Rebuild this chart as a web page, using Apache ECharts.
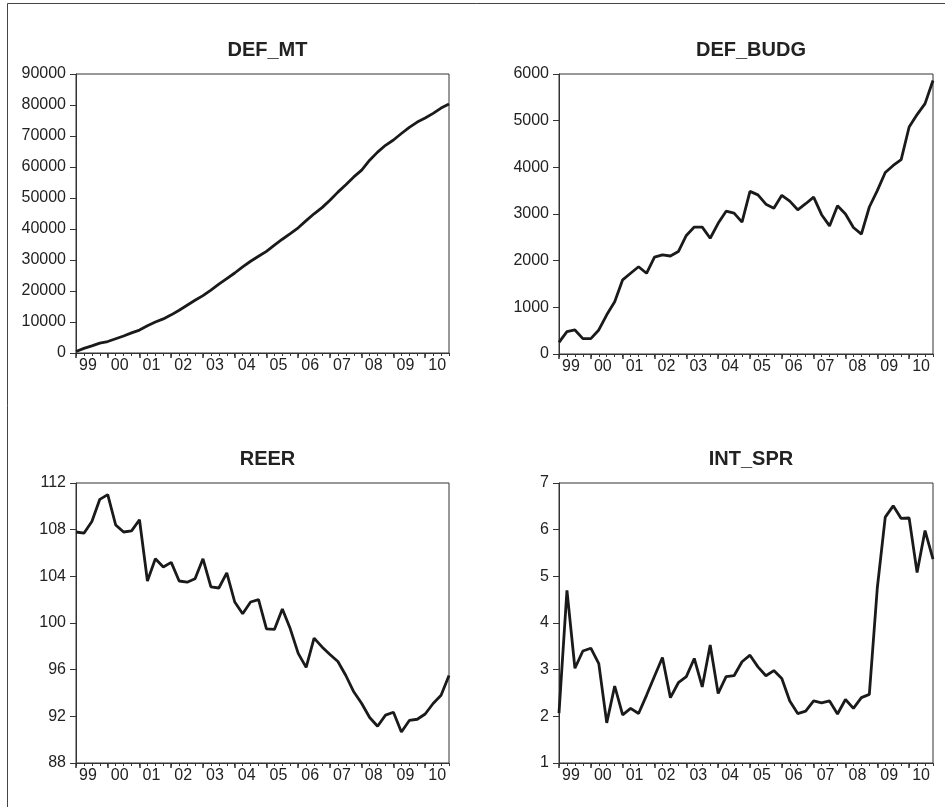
<!DOCTYPE html>
<html><head><meta charset="utf-8">
<script src="https://cdn.jsdelivr.net/npm/echarts@6/dist/echarts.min.js"></script>
<style>html,body{margin:0;padding:0;background:#fff}#c{width:945px;height:807px}</style>
</head><body><div id="c"></div>
<script>
const quarters = [
 '1999Q1','1999Q2','1999Q3','1999Q4','2000Q1','2000Q2','2000Q3','2000Q4',
 '2001Q1','2001Q2','2001Q3','2001Q4','2002Q1','2002Q2','2002Q3','2002Q4',
 '2003Q1','2003Q2','2003Q3','2003Q4','2004Q1','2004Q2','2004Q3','2004Q4',
 '2005Q1','2005Q2','2005Q3','2005Q4','2006Q1','2006Q2','2006Q3','2006Q4',
 '2007Q1','2007Q2','2007Q3','2007Q4','2008Q1','2008Q2','2008Q3','2008Q4',
 '2009Q1','2009Q2','2009Q3','2009Q4','2010Q1','2010Q2','2010Q3','2010Q4'];
const yearLabels = ['99','00','01','02','03','04','05','06','07','08','09','10'];
const titles = ['DEF_MT','DEF_BUDG','REER','INT_SPR'];

const defMt = [500,1500,2300,3200,3700,4600,5500,6500,7400,8800,10000,11000,
 12300,13800,15400,17000,18500,20300,22200,24000,25800,27800,29600,31200,
 32800,34800,36700,38500,40400,42700,44900,46900,49300,51900,54300,56800,
 59000,62200,64800,67000,68700,70800,72800,74500,75800,77300,79000,80300];
const defBudg = [250,480,515,330,330,515,840,1120,1590,1730,1870,1730,
 2075,2125,2100,2195,2540,2720,2720,2480,2800,3060,3020,2825,
 3485,3410,3210,3125,3400,3275,3090,3220,3360,2985,2745,3175,
 3000,2710,2570,3150,3500,3890,4040,4165,4865,5130,5365,5860];
const reer = [107.8,107.7,108.7,110.6,111.0,108.4,107.8,107.9,108.85,103.6,105.5,104.8,
 105.2,103.6,103.5,103.8,105.5,103.1,103.0,104.3,101.8,100.8,101.8,102.0,
 99.5,99.45,101.2,99.5,97.4,96.2,98.7,97.95,97.3,96.7,95.5,94.1,
 93.1,91.9,91.15,92.1,92.35,90.65,91.65,91.75,92.2,93.1,93.8,95.5];
const intSpr = [2.07,4.7,3.03,3.4,3.46,3.13,1.86,2.65,2.03,2.17,2.06,2.45,
 2.86,3.26,2.4,2.72,2.85,3.24,2.63,3.53,2.49,2.85,2.87,3.17,
 3.31,3.06,2.87,2.98,2.81,2.33,2.06,2.11,2.33,2.29,2.33,2.05,
 2.36,2.17,2.4,2.47,4.75,6.27,6.51,6.24,6.25,5.08,5.98,5.37];

const seriesData = [defMt, defBudg, reer, intSpr];
const yMin = [0, 0, 88, 1];
const yMax = [90000, 6000, 112, 7];
const yStep = [10000, 1000, 4, 1];

const FONT = "'Liberation Sans', Arial, sans-serif";
const AX = '#333';
const grids = [
 {left:76, top:74, width:373, height:279},
 {left:559, top:74, width:374, height:280},
 {left:76, top:483, width:373, height:280},
 {left:559, top:483, width:374, height:280}
];
const titleTops = [35, 35, 444, 444];

const option = {
  animation: false,
  backgroundColor: '#fff',
  graphic: [{type:'rect', shape:{x:7.5, y:3.5, width:1000, height:1000},
    style:{fill:'none', stroke:'#444', lineWidth:1}, silent:true}],
  title: grids.map((g,i)=>({text:titles[i], left:g.left+g.width/2, top:titleTops[i], textAlign:'center',
    textStyle:{fontFamily:FONT, fontWeight:'bold', fontSize:20, color:'#222'}})),
  grid: grids.map(g=>Object.assign({show:true, borderColor:AX, borderWidth:1, backgroundColor:'transparent'}, g)),
  xAxis: [],
  yAxis: [],
  series: []
};
grids.forEach((g,i)=>{
  option.xAxis.push({type:'category', gridIndex:i, position:'bottom', data:quarters, boundaryGap:false,
    axisLine:{show:true, onZero:false, lineStyle:{color:AX, width:1}},
    axisTick:{show:true, interval:0, length:3, lineStyle:{color:AX}},
    axisLabel:{show:true, interval:(idx)=>idx%4===1, margin:5,
      formatter:(v,idx)=>yearLabels[Math.floor(idx/4)],
      padding:[0,0,0,8], fontFamily:FONT, fontSize:16, color:'#222'},
    splitLine:{show:false}});
  option.xAxis.push({type:'category', gridIndex:i, position:'bottom', offset:0, data:quarters, boundaryGap:false,
    axisLine:{show:false, onZero:false},
    axisTick:{show:true, interval:(idx)=>idx%4===0, length:5, lineStyle:{color:AX, width:1.5}},
    axisLabel:{show:false}, splitLine:{show:false}});
  option.yAxis.push({type:'value', gridIndex:i, min:yMin[i], max:yMax[i], interval:yStep[i],
    axisLine:{show:true, onZero:false, lineStyle:{color:AX, width:1}},
    axisTick:{show:true, length:6, lineStyle:{color:AX}},
    axisLabel:{margin:10, fontFamily:FONT, fontSize:16, color:'#222', formatter:(v)=>String(v)},
    splitLine:{show:false}});
  option.series.push({type:'line', xAxisIndex:i*2, yAxisIndex:i, data:seriesData[i],
    showSymbol:false, symbol:'none', lineStyle:{color:'#1a1a1a', width:2.8}, z:3});
});
const chart = echarts.init(document.getElementById('c'), null, {renderer:'canvas'});
chart.setOption(option);
</script></body></html>
